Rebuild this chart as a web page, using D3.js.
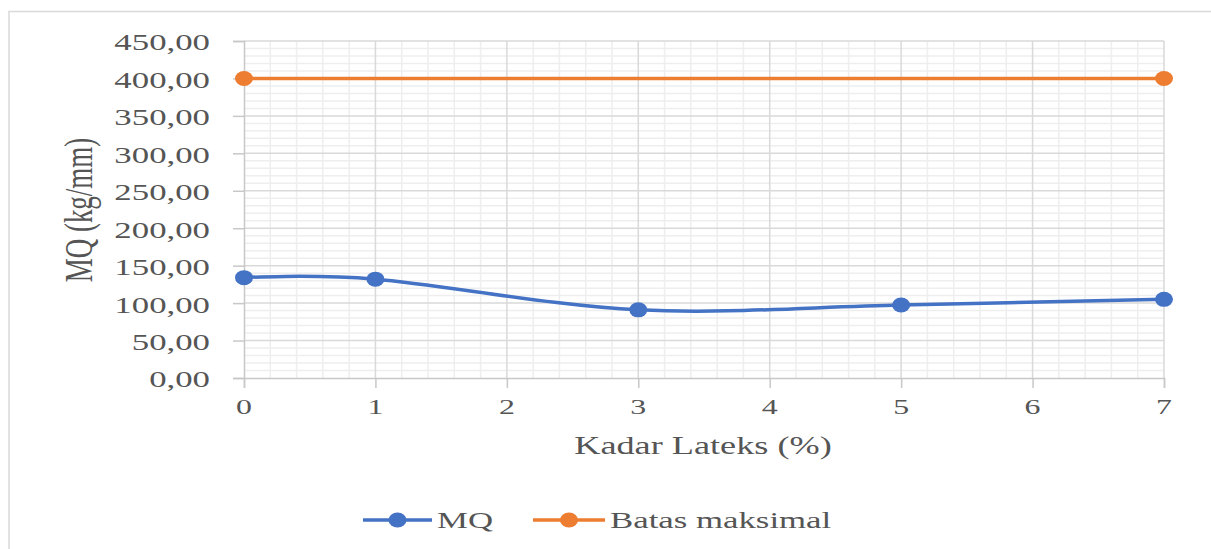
<!DOCTYPE html>
<html>
<head>
<meta charset="utf-8">
<script src="https://cdn.jsdelivr.net/npm/d3@7/dist/d3.min.js"></script>
<style>
  html, body { margin: 0; padding: 0; background: #fff; }
  svg { display: block; }
</style>
</head>
<body>
<svg id="chart" width="1211" height="549"></svg>
<script>
// Kadar lateks (%) and Marshall Quotient values
const kadarMQ = [0, 1, 3, 5, 7];
const nilaiMQ = [134, 132, 91, 97.5, 105];
const kadarBatas = [0, 7];
const nilaiBatas = [400, 400];
const xTicks = [0, 1, 2, 3, 4, 5, 6, 7];
const yTicks = [0, 50, 100, 150, 200, 250, 300, 350, 400, 450];
const seriesNames = ["MQ", "Batas maksimal"];

const W = 1211, H = 549;
const plot = { left: 244, right: 1164, top: 41, bottom: 378 };
const FONT = "'Liberation Serif', 'Times New Roman', serif";
const TEXT = "#555555";
const SX = 1.45; // horizontal stretch applied to all text
const BLUE = "#4472C4", ORANGE = "#ED7D31";

const svg = d3.select("#chart");

// chart frame
svg.append("rect")
  .attr("x", 9).attr("y", 11.5)
  .attr("width", W + 20).attr("height", H + 20)
  .attr("fill", "#fff").attr("stroke", "#d9d9d9").attr("stroke-width", 1.5);

const x = d3.scaleLinear().domain([0, 7]).range([plot.left, plot.right]);
const y = d3.scaleLinear().domain([0, 450]).range([plot.bottom, plot.top]);

const fmt = v => d3.format(".2f")(v).replace(".", ",");

function stretchedText(g, tx, ty, str, size, anchor, rotate) {
  return g.append("g")
    .attr("transform", `translate(${tx},${ty}) scale(${SX},1)` + (rotate ? ` rotate(${rotate})` : ""))
    .append("text")
    .attr("text-anchor", anchor)
    .attr("dominant-baseline", "central")
    .attr("font-family", FONT)
    .attr("font-size", size)
    .attr("fill", TEXT)
    .text(str);
}

// minor gridlines
const grid = svg.append("g");
const minorX = d3.range(0, 7.0001, 0.2).filter(v => Math.abs(v - Math.round(v)) > 1e-6);
const minorY = d3.range(0, 450.001, 10).filter(v => v % 50 !== 0);
grid.selectAll(".mx").data(minorX).join("line")
  .attr("x1", d => x(d)).attr("x2", d => x(d))
  .attr("y1", plot.top).attr("y2", plot.bottom)
  .attr("stroke", "#eeeeee").attr("stroke-width", 1.5);
grid.selectAll(".my").data(minorY).join("line")
  .attr("x1", plot.left).attr("x2", plot.right)
  .attr("y1", d => y(d)).attr("y2", d => y(d))
  .attr("stroke", "#eeeeee").attr("stroke-width", 1.5);

// major gridlines
grid.selectAll(".Mx").data(xTicks.slice(1)).join("line")
  .attr("x1", d => x(d)).attr("x2", d => x(d))
  .attr("y1", plot.top).attr("y2", plot.bottom)
  .attr("stroke", "#d9d9d9").attr("stroke-width", 1.5);
grid.selectAll(".My").data(yTicks.slice(1)).join("line")
  .attr("x1", plot.left).attr("x2", plot.right)
  .attr("y1", d => y(d)).attr("y2", d => y(d))
  .attr("stroke", "#d9d9d9").attr("stroke-width", 1.5);

// axes
const yAxis = svg.append("g").attr("transform", `translate(${plot.left},0)`)
  .call(d3.axisLeft(y).tickValues(yTicks).tickSize(11).tickFormat(""));
const xAxis = svg.append("g").attr("transform", `translate(0,${plot.bottom})`)
  .call(d3.axisBottom(x).tickValues(xTicks).tickSize(10).tickFormat(""));
[yAxis, xAxis].forEach(a => {
  a.select(".domain").attr("stroke", "#c8c8c8").attr("stroke-width", 1.5);
  a.selectAll(".tick line").attr("stroke", "#c8c8c8").attr("stroke-width", 1.5);
});

// tick labels
const labels = svg.append("g");
yTicks.forEach(v => stretchedText(labels, 210, y(v) + 1, fmt(v), 24, "end"));
xTicks.forEach(v => stretchedText(labels, x(v), 407, String(v), 22, "middle"));

// axis titles
stretchedText(labels, 703, 446, "Kadar Lateks (%)", 25, "middle");
stretchedText(labels, 79, 210, "MQ (kg/mm)", 27, "middle", -90);

// series
const lineGen = d3.line().x(d => x(d[0])).y(d => y(d[1]));
const mqPts = kadarMQ.map((k, i) => [k, nilaiMQ[i]]);
const batasPts = kadarBatas.map((k, i) => [k, nilaiBatas[i]]);

svg.append("path").datum(batasPts)
  .attr("d", lineGen.curve(d3.curveLinear))
  .attr("fill", "none").attr("stroke", ORANGE).attr("stroke-width", 3.5);
svg.append("path").datum(mqPts)
  .attr("d", lineGen.curve(d3.curveCardinal.tension(0)))
  .attr("fill", "none").attr("stroke", BLUE).attr("stroke-width", 3.5);

svg.selectAll(".mb").data(batasPts).join("ellipse")
  .attr("cx", d => x(d[0])).attr("cy", d => y(d[1]))
  .attr("rx", 9).attr("ry", 7.5).attr("fill", ORANGE);
svg.selectAll(".mm").data(mqPts).join("ellipse")
  .attr("cx", d => x(d[0])).attr("cy", d => y(d[1]))
  .attr("rx", 9).attr("ry", 7.5).attr("fill", BLUE);

// legend
const legend = svg.append("g");
const legendItems = [
  { name: seriesNames[0], color: BLUE, x0: 363, x1: 432, tx: 437 },
  { name: seriesNames[1], color: ORANGE, x0: 533, x1: 605, tx: 610 }
];
const LY = 520;
legendItems.forEach(it => {
  legend.append("line").attr("x1", it.x0).attr("x2", it.x1).attr("y1", LY).attr("y2", LY)
    .attr("stroke", it.color).attr("stroke-width", 3.5);
  legend.append("ellipse").attr("cx", (it.x0 + it.x1) / 2).attr("cy", LY)
    .attr("rx", 9).attr("ry", 7.5).attr("fill", it.color);
  stretchedText(legend, it.tx, LY, it.name, 24, "start");
});
</script>
</body>
</html>
